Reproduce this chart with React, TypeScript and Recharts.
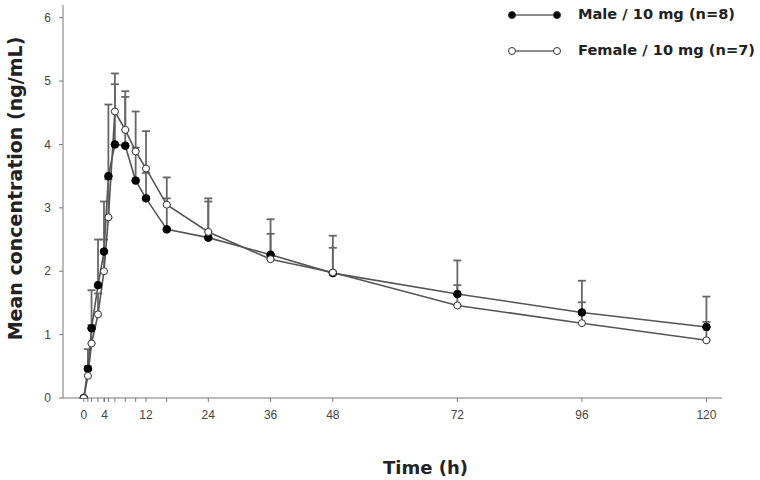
import React from 'react';
import { LineChart, Line, XAxis, YAxis, ErrorBar, Legend, Label } from 'recharts';

// sampling times (h) and mean concentrations (ng/mL)
const hours = [0, 0.8, 1.5, 2.75, 3.9, 4.75, 6, 8, 10, 12, 16, 24, 36, 48, 72, 96, 120];
const maleMean = [0, 0.46, 1.1, 1.78, 2.31, 3.5, 4.0, 3.98, 3.43, 3.15, 2.66, 2.53, 2.26, 1.97, 1.64, 1.35, 1.12];
const maleUpper = [0, 0.77, 1.7, 2.5, 3.1, 4.63, 4.95, 4.84, 3.95, 3.55, 3.15, 3.15, 2.82, 2.56, 2.17, 1.85, 1.6];
const femaleMean = [0, 0.35, 0.86, 1.32, 2.0, 2.85, 4.52, 4.23, 3.89, 3.62, 3.05, 2.62, 2.19, 1.98, 1.46, 1.18, 0.91];
const femaleUpper = [0, 0.5, 1.15, 1.65, 2.5, 3.45, 5.12, 4.75, 4.52, 4.21, 3.48, 3.1, 2.59, 2.37, 1.78, 1.51, 1.2];

const labelledHours = [0, 4, 12, 24, 36, 48, 72, 96, 120];
const yTicks = [0, 1, 2, 3, 4, 5, 6];

const maleName = 'Male / 10 mg (n=8)';
const femaleName = 'Female / 10 mg (n=7)';

const data = hours.map((t, i) => ({
  t,
  male: maleMean[i],
  maleErr: [0, +(maleUpper[i] - maleMean[i]).toFixed(2)],
  female: femaleMean[i],
  femaleErr: [0, +(femaleUpper[i] - femaleMean[i]).toFixed(2)],
}));

const xTicks = Array.from(new Set([...hours, ...labelledHours])).sort((a, b) => a - b);

const titleFont = { fontFamily: '"DejaVu Sans", sans-serif', fontWeight: 700, fill: '#222' };

const YTitle = ({ viewBox }: any) => {
  const cx = viewBox.x + 15;
  const cy = viewBox.y + viewBox.height / 2 - 13;
  return (
    <text x={cx} y={cy} transform={`rotate(-90, ${cx}, ${cy})`} textAnchor="middle" dominantBaseline="central" fontSize={19} {...titleFont}>
      Mean concentration (ng/mL)
    </text>
  );
};

const XTitle = ({ viewBox }: any) => (
  <text x={viewBox.x + viewBox.width / 2 + 33} y={viewBox.y + 76} textAnchor="middle" fontSize={18} {...titleFont}>
    Time (h)
  </text>
);

const LegendBox = ({ payload }: any) => (
  <svg width={260} height={70}>
    {(payload || []).map((p: any) => {
      const filled = p.dataKey === 'male';
      const y = filled ? 15 : 51;
      return (
        <g key={p.value}>
          <line x1={12} y1={y} x2={57} y2={y} stroke="#666" strokeWidth={1.5} />
          <circle cx={12} cy={y} r={3.5} fill={filled ? '#000' : '#fff'} stroke="#333" />
          <circle cx={57} cy={y} r={3.5} fill={filled ? '#000' : '#fff'} stroke="#333" />
          <text x={78} y={y + 4} fontSize={14.6} {...titleFont}>{p.value}</text>
        </g>
      );
    })}
  </svg>
);

export default function App() {
  return (
    <div style={{ width: 760, height: 480, background: '#fff', fontFamily: '"Liberation Sans", Arial, sans-serif' }}>
      <style>{'body{margin:0}'}</style>
      <LineChart width={760} height={480} data={data} margin={{ top: 5, right: 38, bottom: 42, left: 0 }}>
        <XAxis
          type="number"
          dataKey="t"
          domain={[-4, 123]}
          ticks={xTicks}
          interval={0}
          allowDataOverflow
          height={40}
          tickSize={4}
          tickMargin={8}
          axisLine={{ stroke: '#777' }}
          tickLine={{ stroke: '#777' }}
          tick={{ fill: '#444', fontSize: 12 }}
          tickFormatter={(v: number) => (labelledHours.includes(v) ? String(v) : '')}
        >
          <Label content={<XTitle />} />
        </XAxis>
        <YAxis
          type="number"
          domain={[0, 6.2]}
          ticks={yTicks}
          interval={0}
          allowDataOverflow
          width={63}
          tickSize={4}
          tickMargin={8}
          axisLine={{ stroke: '#777' }}
          tickLine={{ stroke: '#777' }}
          tick={{ fill: '#444', fontSize: 12 }}
        >
          <Label content={<YTitle />} />
        </YAxis>
        <Legend
          layout="horizontal"
          verticalAlign="middle"
          align="center"
          content={<LegendBox />}
          wrapperStyle={{ top: 0, left: 500, width: 260, height: 70 }}
        />
        <Line
          dataKey="male"
          name={maleName}
          stroke="#555"
          strokeWidth={1.6}
          dot={{ r: 3.8, fill: '#000', stroke: '#000', strokeWidth: 1 }}
          isAnimationActive={false}
        >
          <ErrorBar dataKey="maleErr" direction="y" width={4} stroke="#666" strokeWidth={1.8} />
        </Line>
        <Line
          dataKey="female"
          name={femaleName}
          stroke="#555"
          strokeWidth={1.6}
          dot={{ r: 3.5, fill: '#fff', stroke: '#333', strokeWidth: 1 }}
          isAnimationActive={false}
        >
          <ErrorBar dataKey="femaleErr" direction="y" width={4} stroke="#666" strokeWidth={1.8} />
        </Line>
      </LineChart>
    </div>
  );
}
